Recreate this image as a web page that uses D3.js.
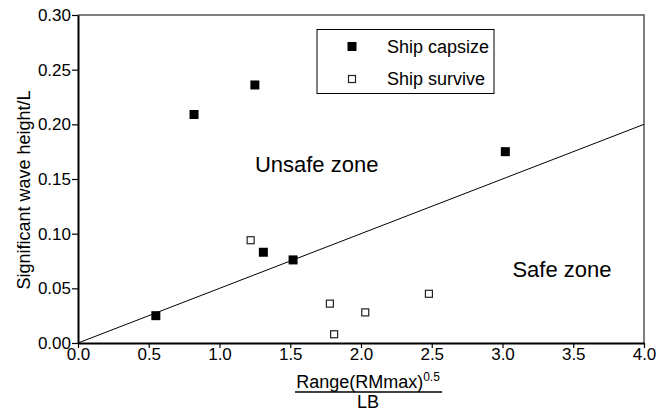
<!DOCTYPE html>
<html>
<head>
<meta charset="utf-8">
<script src="https://cdn.jsdelivr.net/npm/d3@7"></script>
<style>
  body { margin: 0; background: #fff; }
  svg { font-family: "Liberation Sans", Arial, sans-serif; }
</style>
</head>
<body>
<div id="chart"></div>
<script>
// values
var capsizeX = [0.55, 0.82, 1.25, 1.31, 1.52, 3.02];
var capsizeY = [0.025, 0.209, 0.236, 0.083, 0.076, 0.175];
var surviveX = [1.22, 1.78, 1.81, 2.03, 2.48];
var surviveY = [0.094, 0.036, 0.008, 0.028, 0.045];
var limitLine = [[0, 0], [4, 0.2]];
var xTicks = [0, 0.5, 1, 1.5, 2, 2.5, 3, 3.5, 4];
var yTicks = [0, 0.05, 0.1, 0.15, 0.2, 0.25, 0.3];
var legendLabels = ['Ship capsize', 'Ship survive'];
var zoneLabels = [
  { text: 'Unsafe zone', x: 1.25, y: 0.156 },
  { text: 'Safe zone', x: 3.07, y: 0.060 }
];

var totalW = 669, totalH = 411;
var margins = { left: 78, right: 25, top: 15, bottom: 68 };
var width = totalW - margins.left - margins.right;
var height = totalH - margins.top - margins.bottom;

var svg = d3.select('#chart').append('svg')
    .attr('width', totalW)
    .attr('height', totalH);

var g = svg.append('g')
    .attr('transform', 'translate(' + margins.left + ',' + margins.top + ')');

var x = d3.scaleLinear().domain([0, 4]).range([0, width]);
var y = d3.scaleLinear().domain([0, 0.3]).range([height, 0]);

// top + right frame (grey)
g.append('path')
    .attr('d', 'M0,0H' + x(4) + 'V' + y(0))
    .attr('fill', 'none')
    .attr('stroke', '#555')
    .attr('stroke-width', 1.5);

// limit line
g.append('path')
    .datum(limitLine)
    .attr('d', d3.line().x(function(d) { return x(d[0]); }).y(function(d) { return y(d[1]); }))
    .attr('stroke', '#000')
    .attr('stroke-width', 1)
    .attr('fill', 'none');

// axes
var xAxis = g.append('g')
    .attr('transform', 'translate(0,' + height + ')')
    .call(d3.axisBottom(x).tickValues(xTicks).tickFormat(d3.format('.1f')).tickSize(5).tickSizeOuter(0));
var yAxis = g.append('g')
    .call(d3.axisLeft(y).tickValues(yTicks).tickFormat(d3.format('.2f')).tickSize(6).tickSizeOuter(0));

[xAxis, yAxis].forEach(function(a) {
  a.select('.domain').attr('stroke', '#000').attr('stroke-width', 2);
  a.selectAll('.tick line').attr('stroke', '#000').attr('stroke-width', 1.2);
  a.selectAll('.tick text')
      .attr('fill', '#000')
      .style('font-size', '17px')
      .style('font-family', '"Liberation Sans", Arial, sans-serif');
});
xAxis.selectAll('.tick text').attr('dy', '0.71em').attr('y', 5);
yAxis.selectAll('.tick text').attr('x', -7);

// markers
var capsize = capsizeX.map(function(v, i) { return [v, capsizeY[i]]; });
var survive = surviveX.map(function(v, i) { return [v, surviveY[i]]; });

g.selectAll('rect.capsize').data(capsize).enter()
    .append('rect').classed('capsize', true)
    .attr('x', function(d) { return x(d[0]) - 4.5; })
    .attr('y', function(d) { return y(d[1]) - 4.5; })
    .attr('width', 9).attr('height', 9)
    .attr('fill', '#000');

g.selectAll('rect.survive').data(survive).enter()
    .append('rect').classed('survive', true)
    .attr('x', function(d) { return x(d[0]) - 3.5; })
    .attr('y', function(d) { return y(d[1]) - 3.5; })
    .attr('width', 7).attr('height', 7)
    .attr('fill', '#fff')
    .attr('stroke', '#222')
    .attr('stroke-width', 1.2);

// zone labels
g.selectAll('text.zone').data(zoneLabels).enter()
    .append('text').classed('zone', true)
    .attr('x', function(d) { return x(d.x); })
    .attr('y', function(d) { return y(d.y); })
    .style('font-size', '22px')
    .attr('fill', '#000')
    .text(function(d) { return d.text; });

// legend
var legend = svg.append('g').attr('transform', 'translate(317,29.5)');
legend.append('rect')
    .attr('width', 177).attr('height', 64)
    .attr('fill', '#fff').attr('stroke', '#000').attr('stroke-width', 1);
var items = legend.selectAll('g.item').data(legendLabels).enter()
    .append('g').classed('item', true)
    .attr('transform', function(d, i) { return 'translate(0,' + (17 + i * 32.5) + ')'; });
items.append('rect')
    .attr('x', function(d, i) { return i === 0 ? 30.5 : 31.5; })
    .attr('y', function(d, i) { return i === 0 ? -4.5 : -3.5; })
    .attr('width', function(d, i) { return i === 0 ? 9 : 7; })
    .attr('height', function(d, i) { return i === 0 ? 9 : 7; })
    .attr('fill', function(d, i) { return i === 0 ? '#000' : '#fff'; })
    .attr('stroke', function(d, i) { return i === 0 ? 'none' : '#222'; })
    .attr('stroke-width', 1.2);
items.append('text')
    .attr('x', 70)
    .attr('y', 6)
    .style('font-size', '18px')
    .attr('fill', '#000')
    .text(function(d) { return d; });

// y axis title
svg.append('text')
    .attr('transform', 'translate(30,190) rotate(-90)')
    .attr('text-anchor', 'middle')
    .style('font-size', '18px')
    .text('Significant wave height/L');

// x axis title as a fraction
var cx = 368;
var num = svg.append('text')
    .attr('x', cx)
    .attr('y', 388)
    .attr('text-anchor', 'middle')
    .style('font-size', '18px');
num.append('tspan').text('Range(RMmax)');
num.append('tspan').attr('dy', -7).style('font-size', '12px').text('0.5');
svg.append('line')
    .attr('x1', 295).attr('x2', 442)
    .attr('y1', 392).attr('y2', 392)
    .attr('stroke', '#000').attr('stroke-width', 1.5);
svg.append('text')
    .attr('x', cx)
    .attr('y', 408)
    .attr('text-anchor', 'middle')
    .style('font-size', '18px')
    .text('LB');
</script>
</body>
</html>
